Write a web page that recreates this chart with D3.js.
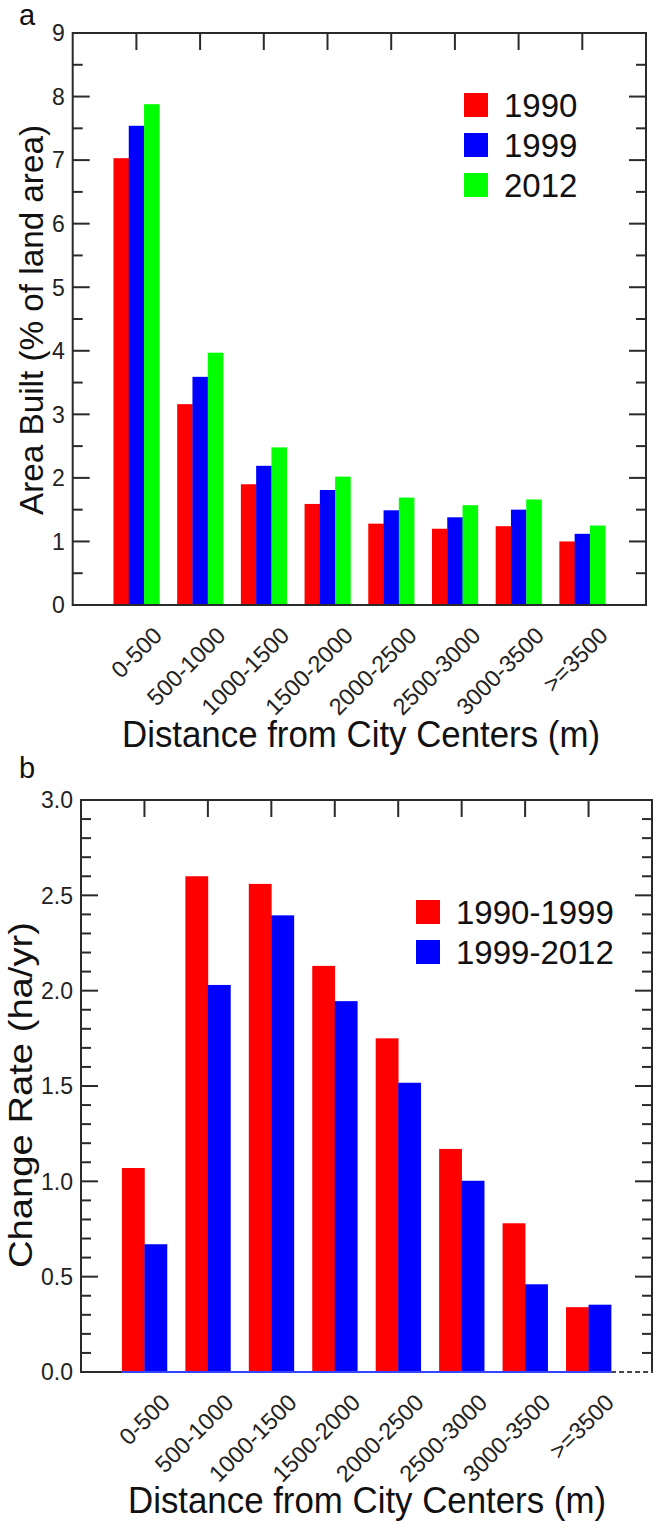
<!DOCTYPE html>
<html>
<head>
<meta charset="utf-8">
<script src="https://cdn.jsdelivr.net/npm/d3@7"></script>
<style>
  html, body { margin: 0; padding: 0; background: #fff; }
  svg { display: block; font-family: "Liberation Sans", Arial, sans-serif; }
</style>
</head>
<body>
<svg id="chart" width="653" height="1523"></svg>
<script>
// ---------- data ----------
const categories = ["0-500", "500-1000", "1000-1500", "1500-2000", "2000-2500", "2500-3000", "3000-3500", ">=3500"];

// Panel a: Area Built (% of land area)
const seriesA = ["1990", "1999", "2012"];
const area1990 = [7.03, 3.16, 1.90, 1.59, 1.28, 1.20, 1.24, 1.00];
const area1999 = [7.54, 3.59, 2.19, 1.81, 1.49, 1.38, 1.50, 1.12];
const area2012 = [7.88, 3.97, 2.48, 2.02, 1.69, 1.57, 1.66, 1.25];
const colorsA = ["#ff0000", "#0000ff", "#00ff00"];
const yTicksA = [0, 1, 2, 3, 4, 5, 6, 7, 8, 9];

// Panel b: Change Rate (ha/yr)
const seriesB = ["1990-1999", "1999-2012"];
const rate9099 = [1.07, 2.60, 2.56, 2.13, 1.75, 1.17, 0.78, 0.34];
const rate9912 = [0.67, 2.03, 2.395, 1.945, 1.517, 1.003, 0.46, 0.353];
const colorsB = ["#ff0000", "#0000ff"];
const yTicksB = ["0.0", "0.5", "1.0", "1.5", "2.0", "2.5", "3.0"];

const xTitle = "Distance from City Centers (m)";

// ---------- drawing ----------
const svg = d3.select("#chart");
const AX = "#2a2a2a";

function panel(opt) {
  const g = svg.append("g");
  const x = d3.scaleLinear().domain([0, categories.length + 1]).range([opt.left, opt.right]);
  const y = d3.scaleLinear().domain([0, opt.ymax]).range([opt.bottom, opt.top]);
  const step = x(1) - x(0);
  const nS = opt.series.length;
  const barW = step * opt.barFrac;

  // bars
  opt.values.forEach((vals, si) => {
    g.selectAll(null).data(vals).enter().append("rect")
      .attr("x", (d, i) => x(i + 1) - barW * nS / 2 + si * barW)
      .attr("y", d => y(d))
      .attr("width", barW + 0.3)
      .attr("height", d => y(0) - y(d))
      .attr("fill", opt.colors[si]);
  });

  // frame
  g.append("rect").attr("x", opt.left).attr("y", opt.top)
    .attr("width", opt.right - opt.left).attr("height", opt.bottom - opt.top)
    .attr("fill", "none").attr("stroke", AX).attr("stroke-width", 2);

  if (opt.blueBase) {
    const x0 = x(1) - barW * nS / 2, x1 = x(categories.length) + barW * nS / 2;
    g.append("line").attr("x1", x0).attr("x2", x1).attr("y1", y(0)).attr("y2", y(0))
      .attr("stroke", "#3344ff").attr("stroke-width", 2);
    g.append("line").attr("x1", x1).attr("x2", opt.right).attr("y1", y(0)).attr("y2", y(0))
      .attr("stroke", "#fff").attr("stroke-width", 2);
    g.append("line").attr("x1", x1).attr("x2", opt.right).attr("y1", y(0)).attr("y2", y(0))
      .attr("stroke", "#444").attr("stroke-width", 2).attr("stroke-dasharray", "5,3");
  }

  // top ticks (inward) at category positions
  const catIdx = d3.range(1, categories.length + 1);
  g.selectAll(null).data(catIdx).enter().append("line")
    .attr("x1", d => x(d)).attr("x2", d => x(d))
    .attr("y1", opt.top).attr("y2", opt.top + 17)
    .attr("stroke", AX).attr("stroke-width", 2);

  // y axis ticks left and right (inward)
  const minor = d3.range(0, opt.ymax + 1e-9, opt.minorStep).map(v => +v.toFixed(3));
  minor.forEach(v => {
    const isMajor = Math.abs(v / opt.majorStep - Math.round(v / opt.majorStep)) < 1e-6;
    const len = isMajor ? 17 : 10;
    if (v === 0 || v === opt.ymax) return;
    g.append("line").attr("x1", opt.left).attr("x2", opt.left + len)
      .attr("y1", y(v)).attr("y2", y(v)).attr("stroke", AX).attr("stroke-width", 2);
    g.append("line").attr("x1", opt.right - len).attr("x2", opt.right)
      .attr("y1", y(v)).attr("y2", y(v)).attr("stroke", AX).attr("stroke-width", 2);
  });

  // y tick labels
  g.selectAll(null).data(opt.yTicks).enter().append("text")
    .attr("x", opt.left - 8).attr("y", d => y(+d)).attr("dy", "0.36em")
    .attr("text-anchor", "end").attr("font-size", 23).attr("fill", "#222")
    .text(d => d);

  // x tick labels rotated
  g.selectAll(null).data(categories).enter().append("text")
    .attr("transform", (d, i) => `translate(${x(i + 1) + 27},${opt.bottom + 32}) rotate(-45)`)
    .attr("text-anchor", "end").attr("font-size", 23.5).attr("fill", "#222")
    .text(d => d);

  // x title
  g.append("text").attr("x", opt.xTitleX).attr("y", opt.xTitleY)
    .attr("font-size", 36).attr("fill", "#111")
    .attr("textLength", 478).attr("lengthAdjust", "spacingAndGlyphs")
    .text(xTitle);

  // y title
  g.append("text")
    .attr("transform", `translate(${opt.yTitleX},${opt.yTitleCY}) rotate(-90)`)
    .attr("text-anchor", "middle").attr("font-size", opt.yTitleSize).attr("fill", "#111")
    .attr("textLength", opt.yTitleLen).attr("lengthAdjust", "spacingAndGlyphs")
    .text(opt.yTitle);

  // panel letter
  g.append("text").attr("x", opt.letterX).attr("y", opt.letterY)
    .attr("font-size", 29).attr("fill", "#111").text(opt.letter);

  // legend
  opt.series.forEach((s, i) => {
    const yy = opt.legY + i * 40;
    g.append("rect").attr("x", opt.legX).attr("y", yy).attr("width", 24).attr("height", 24)
      .attr("fill", opt.colors[i]);
    g.append("text").attr("x", opt.legX + 40).attr("y", yy + 24)
      .attr("font-size", 33).attr("fill", "#111").text(s);
  });
}

panel({
  left: 72.7, right: 646, top: 33, bottom: 605, ymax: 9,
  values: [area1990, area1999, area2012], series: seriesA, colors: colorsA,
  barFrac: 0.24, yTicks: yTicksA, majorStep: 1, minorStep: 0.5,
  xTitleX: 122, xTitleY: 747,
  yTitle: "Area Built (% of land area)", yTitleX: 43, yTitleCY: 320, yTitleSize: 32.5, yTitleLen: 390,
  letter: "a", letterX: 19, letterY: 25, legX: 464, legY: 93, blueBase: false
});

panel({
  left: 81, right: 652, top: 800, bottom: 1372, ymax: 3,
  values: [rate9099, rate9912], series: seriesB, colors: colorsB,
  barFrac: 0.355, yTicks: yTicksB, majorStep: 0.5, minorStep: 0.1,
  xTitleX: 128, xTitleY: 1513,
  yTitle: "Change Rate (ha/yr)", yTitleX: 32, yTitleCY: 1095, yTitleSize: 34, yTitleLen: 346,
  letter: "b", letterX: 19, letterY: 778, legX: 416, legY: 900, blueBase: true
});
</script>
</body>
</html>
